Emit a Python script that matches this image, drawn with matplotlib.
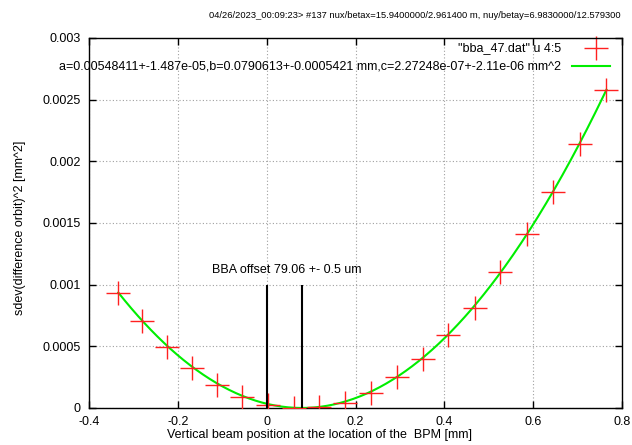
import matplotlib
matplotlib.use("Agg")
import matplotlib.pyplot as plt
import numpy as np

plt.rcParams['font.family'] = ['Liberation Sans', 'DejaVu Sans']
plt.rcParams['font.size'] = 9

# measured points: beam position [mm] vs sdev(difference orbit)^2 [mm^2]
pos_mm = [-0.334, -0.280, -0.225, -0.169, -0.112, -0.055, 0.003, 0.061, 0.118, 0.177,
          0.234, 0.293, 0.351, 0.408, 0.468, 0.526, 0.586, 0.645, 0.705, 0.765]
sdev2 = [0.000930, 0.000705, 0.000496, 0.000325, 0.000190, 0.0000894, 0.000022, 0.000002,
         0.000008, 0.000040, 0.000125, 0.000252, 0.000398, 0.000590, 0.000813, 0.001106,
         0.001410, 0.001750, 0.002140, 0.002577]

# fit parameters y = a*(x-b)^2 + c
fit_a = 0.00548411
fit_b = 0.0790613
fit_c = 2.27248e-07

title = ("04/26/2023_00:09:23> #137 nux/betax=15.9400000/2.961400 m, "
         "nuy/betay=6.9830000/12.579300")
data_label = '"bba_47.dat" u 4:5'
fit_label = ("a=0.00548411+-1.487e-05,b=0.0790613+-0.0005421 mm,"
             "c=2.27248e-07+-2.11e-06 mm^2")
offset_label = "BBA offset 79.06 +- 0.5 um"

fig = plt.figure(figsize=(6.32, 4.45), dpi=100)
ax = fig.add_axes([89 / 632, 37 / 445, 533 / 632, 370 / 445])

ax.set_xlim(-0.4, 0.8)
ax.set_ylim(0, 0.003)
ax.set_xticks(np.arange(-0.4, 0.81, 0.2))
ax.set_xticklabels(["-0.4", "-0.2", "0", "0.2", "0.4", "0.6", "0.8"])
ax.set_yticks(np.arange(0, 0.00301, 0.0005))
ax.set_yticklabels(["0", "0.0005", "0.001", "0.0015", "0.002", "0.0025", "0.003"])
ax.tick_params(direction='in', length=5, width=1, top=True, right=True,
               labelsize=9, pad=6)
ax.grid(True, color='#a0a0a0', linestyle=(0, (1, 2)), linewidth=0.8)
for sp in ax.spines.values():
    sp.set_linewidth(1)

# fit curve
xf = np.linspace(min(pos_mm), max(pos_mm), 300)
ax.plot(xf, fit_a * (xf - fit_b) ** 2 + fit_c, color='#00ee00', lw=1.5, zorder=3)

# data points
ax.plot(pos_mm, sdev2, linestyle='none', marker='+', markersize=17, mew=1,
        color='#ff2020', zorder=4)

# BBA offset markers
ax.vlines([0, fit_b], 0, 0.001, color='black', lw=1.5, zorder=5)
ax.text(-0.124, 0.00112, offset_label, ha='left', va='center', fontsize=9)

# legend, gnuplot style (right-justified)
ax.text(0.8856, 0.973, data_label, transform=ax.transAxes, ha='right', va='center',
        fontsize=9)
ax.text(0.8856, 0.924, fit_label, transform=ax.transAxes, ha='right', va='center',
        fontsize=9)
ax.plot([0.951], [0.973], transform=ax.transAxes, marker='+', markersize=17, mew=1,
        color='#ff2020', clip_on=False)
ax.plot([0.906, 0.977], [0.924, 0.924], transform=ax.transAxes, color='#00ee00',
        lw=1.5, clip_on=False)

fig.text(209 / 632, 1 - 15 / 445, title, ha='left', va='center', fontsize=6.75)
ax.set_xlabel("Vertical beam position at the location of the  BPM [mm]", fontsize=9)
ax.xaxis.set_label_coords((319.5 - 89) / 533, -(429 - 408) / 370)
ax.set_ylabel("sdev(difference orbit)^2 [mm^2]", fontsize=9)
ax.yaxis.set_label_coords(-(89 - 26) / 533, (408 - 228) / 370)

fig.savefig("out.png", dpi=100)
